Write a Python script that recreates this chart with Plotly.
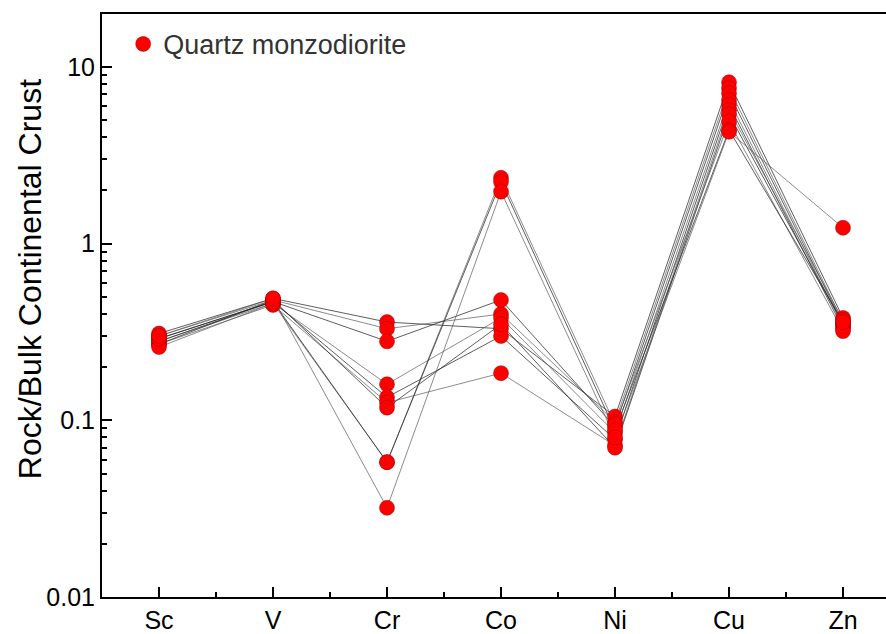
import plotly.graph_objects as go

# Trace elements normalised to bulk continental crust
elements = ["Sc", "V", "Cr", "Co", "Ni", "Cu", "Zn"]

sc = [0.31, 0.30, 0.29, 0.28, 0.28, 0.27, 0.27, 0.26, 0.29, 0.30]
v = [0.49, 0.48, 0.47, 0.46, 0.47, 0.45, 0.48, 0.46, 0.47, 0.49]
cr = [0.36, 0.33, 0.28, 0.16, 0.135, 0.126, 0.118, 0.058, 0.058, 0.032]
co = [0.33, 0.40, 0.48, 0.38, 0.30, 0.185, 0.35, 2.36, 2.24, 1.97]
ni = [0.105, 0.098, 0.092, 0.085, 0.078, 0.072, 0.070, 0.095, 0.088, 0.080]
cu = [8.2, 7.6, 7.1, 6.5, 6.1, 5.7, 5.4, 4.9, 4.4, 4.3]
zn = [0.38, 0.36, 0.35, 0.34, 0.33, 0.37, 0.35, 0.32, 0.36, 1.23]

series = [sc, v, cr, co, ni, cu, zn]
n_samples = len(sc)
xpos = list(range(len(elements)))

line_colors = ["rgba(40,40,40,0.75)", "rgba(90,90,90,0.7)"]

fig = go.Figure()

# one grey polyline per sample
for i in range(n_samples):
    fig.add_trace(go.Scatter(
        x=xpos,
        y=[s[i] for s in series],
        mode="lines",
        line=dict(color=line_colors[i % 2], width=1),
        showlegend=False,
        hoverinfo="skip",
    ))

# all sample points on top of the lines
xs, ys = [], []
for i in range(n_samples):
    for k, s in enumerate(series):
        xs.append(k)
        ys.append(s[i])

fig.add_trace(go.Scatter(
    x=xs, y=ys,
    mode="markers",
    name="Quartz monzodiorite",
    marker=dict(symbol="circle", size=15, color="#ff0000",
                line=dict(color="rgba(150,0,0,0.6)", width=0.8)),
))

font_family = "Liberation Sans, Arial, sans-serif"

fig.update_layout(
    width=886, height=634,
    margin=dict(l=102, r=0, t=14, b=37),
    paper_bgcolor="white",
    plot_bgcolor="white",
    font=dict(family=font_family, color="black"),
    showlegend=True,
    legend=dict(
        x=0.027, y=0.99, xanchor="left", yanchor="top",
        bgcolor="rgba(0,0,0,0)",
        font=dict(size=27, family=font_family, color="#333"),
        itemwidth=30,
        tracegroupgap=0,
    ),
    annotations=[dict(
        text="Rock/Bulk Continental Crust",
        xref="paper", yref="paper",
        x=-0.092, y=0.545,
        xanchor="center", yanchor="middle",
        textangle=-90,
        showarrow=False,
        font=dict(size=32, family=font_family, color="black"),
    )],
)

fig.update_xaxes(
    range=[-0.5, 6.377],
    tickmode="array",
    tickvals=xpos,
    ticktext=elements,
    ticks="inside",
    ticklen=10,
    tickwidth=2,
    tickcolor="black",
    showline=True,
    linewidth=2,
    linecolor="black",
    mirror=True,
    showgrid=False,
    zeroline=False,
    tickfont=dict(size=25, family=font_family),
    minor=dict(tickmode="linear", tick0=0.5, dtick=1, ticks="inside",
               ticklen=5, tickwidth=2, tickcolor="black", showgrid=False),
)

fig.update_yaxes(
    type="log",
    range=[-2, 1.3],
    tickmode="array",
    tickvals=[0.01, 0.1, 1, 10],
    ticktext=["0.01", "0.1", "1", "10"],
    ticks="inside",
    ticklen=10,
    tickwidth=2,
    tickcolor="black",
    showline=True,
    linewidth=2,
    linecolor="black",
    mirror=False,
    showgrid=False,
    zeroline=False,
    tickfont=dict(size=25, family=font_family),
    minor=dict(tickmode="array",
               tickvals=[m * 10 ** e for e in (-2, -1, 0, 1) for m in range(2, 10)],
               ticks="inside", ticklen=5, tickwidth=1.5, tickcolor="black",
               showgrid=False),
)

fig.write_html("out.html")
